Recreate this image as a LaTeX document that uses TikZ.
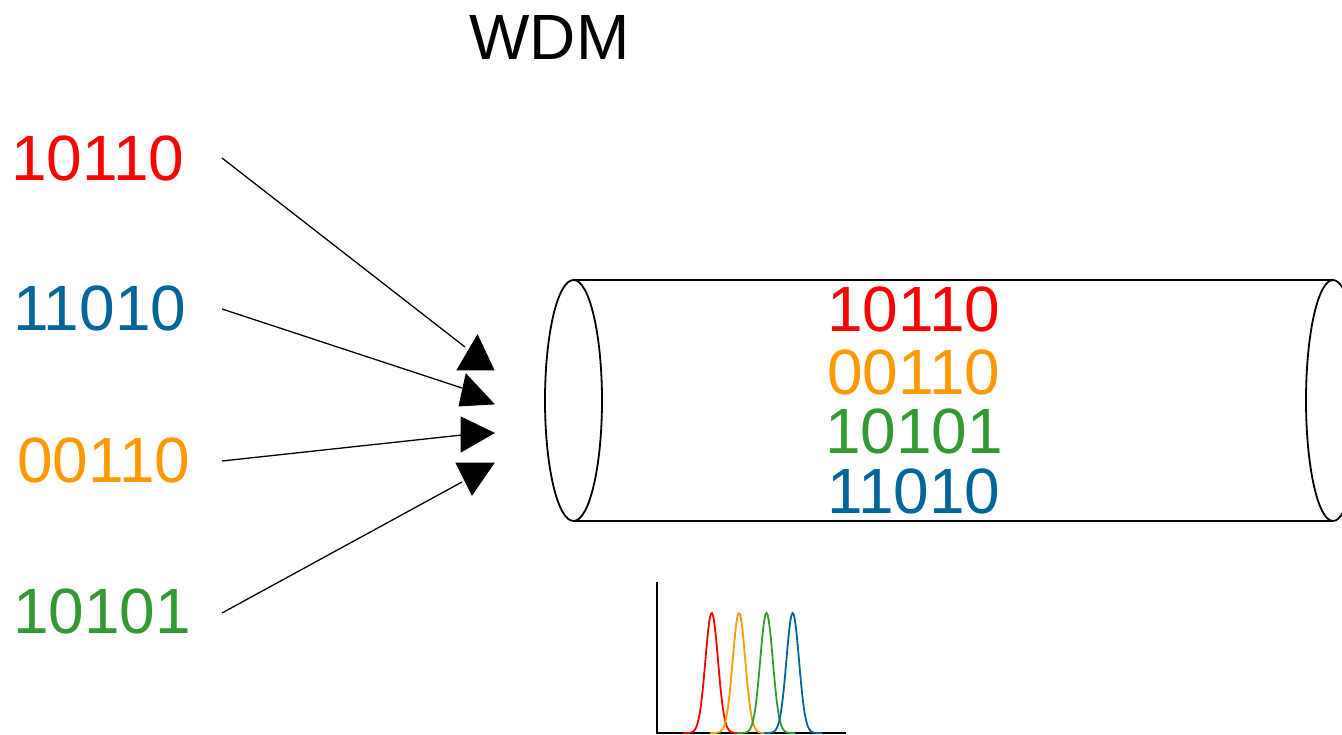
\documentclass[tikz,border=0pt]{standalone}
\usepackage{fontspec}
\setmainfont{Liberation Sans}
\definecolor{cred}{HTML}{FF0000}
\definecolor{corange}{HTML}{FF9900}
\definecolor{cgreen}{HTML}{339933}
\definecolor{cblue}{HTML}{006699}
\begin{document}
\begin{tikzpicture}[x=1pt,y=-1pt,
  big/.style={font=\fontsize{64}{76}\selectfont, inner sep=0pt, outer sep=0pt},
  lbl/.style={big, anchor=west},
  conn/.style={line width=1.3pt},
  head/.style={fill=black, draw=black, line width=0.8pt, line join=miter},
  tube/.style={line width=1.8pt},
  axis/.style={line width=2pt},
  peak/.style={line width=1.8pt, smooth, samples=60}]
\useasboundingbox (0,0) rectangle (1342,735);

% title
\node[big] (title) at (549.5,37.5) {WDM};

% input labels
\node[lbl, text=cred]    (in1) at (11,158.5) {10110};
\node[lbl, text=cblue]   (in2) at (13,308)   {11010};
\node[lbl, text=corange] (in3) at (17,460)   {00110};
\node[lbl, text=cgreen]  (in4) at (13,611)   {10101};

% connector ends
\coordinate (s1) at (222,158);
\coordinate (s2) at (222,309);
\coordinate (s3) at (222,461);
\coordinate (s4) at (222,613);
\coordinate (e1) at (465,347);
\coordinate (e2) at (462,388);
\coordinate (e3) at (462,435);
\coordinate (e4) at (462,482);

\draw[conn] (s1) -- (e1);
\draw[conn] (s2) -- (e2);
\draw[conn] (s3) -- (e3);
\draw[conn] (s4) -- (e4);

% arrow heads
\fill[head] (477.5,335) -- (494,370) -- (457,370) -- cycle;
\fill[head] (466,374) -- (494,404) -- (459,406) -- cycle;
\fill[head] (461,417) -- (494,433) -- (461,452) -- cycle;
\fill[head] (456,463) -- (494,463) -- (472,495) -- cycle;

% tube
\draw[tube] (573.5,280) -- (1333,280);
\draw[tube] (573.5,521) -- (1333,521);
\draw[tube] (573.5,400.5) ellipse [x radius=28.5, y radius=120.5];
\begin{scope}
  \clip (0,0) rectangle (1342,735);
  \draw[tube] (1333,400.5) ellipse [x radius=27, y radius=120.5];
\end{scope}

% multiplexed signals
\node[big, text=cred]    (m1) at (914,309.5) {10110};
\node[big, text=corange] (m2) at (914,372.5) {00110};
\node[big, text=cgreen]  (m3) at (914,431.5) {10101};
\node[big, text=cblue]   (m4) at (914,491.5) {11010};

% spectrum
\draw[axis] (657,582) -- (657,733) -- (846,733);
\draw[peak, cred]    plot[domain=683:740] (\x, {733-120*exp(-((\x-711.7)/6.3)^2/2)});
\draw[peak, corange] plot[domain=710:768] (\x, {733-120*exp(-((\x-739)/6.3)^2/2)});
\draw[peak, cgreen]  plot[domain=737:795] (\x, {733-120*exp(-((\x-766.5)/6.3)^2/2)});
\draw[peak, cblue]   plot[domain=764:822] (\x, {733-120*exp(-((\x-792.7)/6.3)^2/2)});
\end{tikzpicture}
\end{document}
